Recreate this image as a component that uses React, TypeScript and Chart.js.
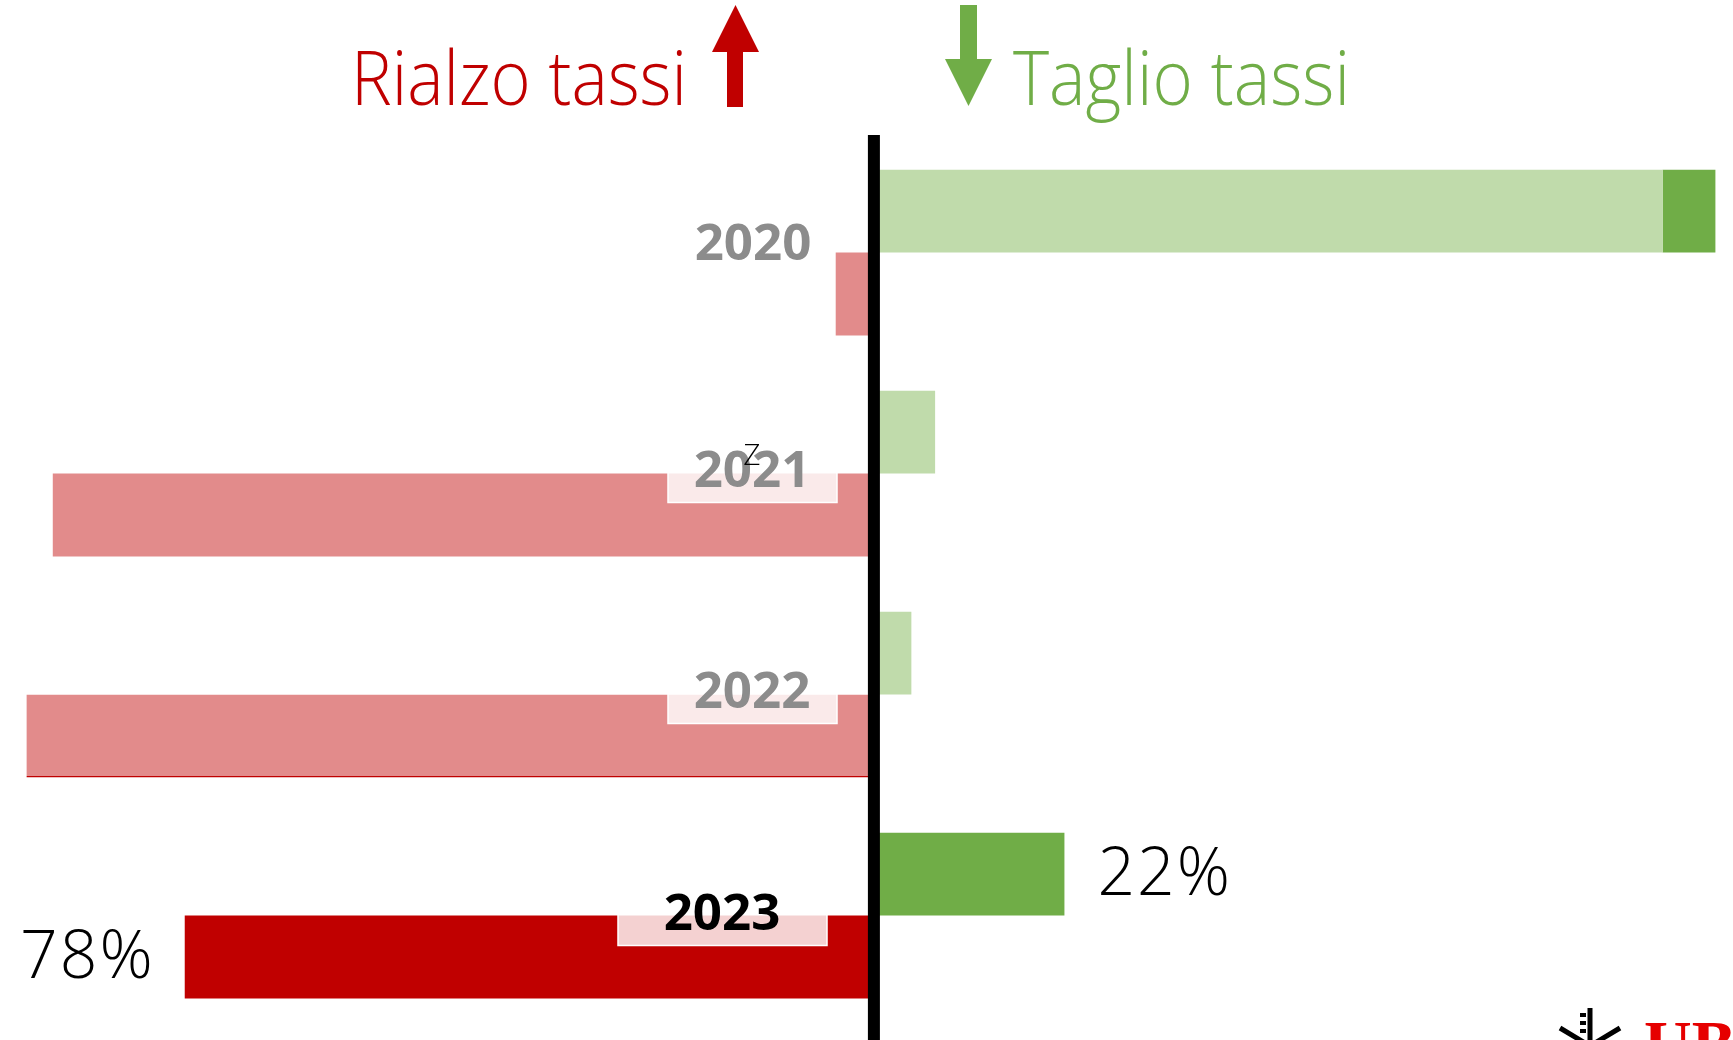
import React, { useEffect, useRef } from "react";
import { Chart, registerables } from "chart.js";

Chart.register(...registerables);

// ---- data ----
const years = ["2020", "2021", "2022", "2023"];
const cutValues = [90, 7.3, 4.6, 22]; // Taglio tassi (%)
const cutExtra = [6, 0, 0, 0]; // darker tip on 2020 cut bar
const hikeValues = [-4, -93, -96, -78]; // Rialzo tassi (%)
const highlightIndex = 3;

// ---- styles ----
const W = 1733;
const H = 1040;
const RED = "#C00000";
const RED_LIGHT = "#E28B8B";
const GREEN = "#70AD47";
const GREEN_LIGHT = "#C0DBAB";
const yearLabelDy = [7, 13, 13, 14];
const yearLabelX = [753, 752, 752, 722];
const yearBox = [null, [668, 837], [668, 837], [618, 827]] as (number[] | null)[];

function condensedText(ctx: CanvasRenderingContext2D, text: string, x: number, y: number, targetWidth: number, align: "left" | "right") {
  const w = ctx.measureText(text).width;
  const s = targetWidth / w;
  ctx.save();
  ctx.textAlign = "left";
  const left = align === "left" ? x : x - targetWidth;
  ctx.translate(left, y);
  ctx.scale(s, 1);
  ctx.fillText(text, 0, 0);
  ctx.restore();
}

const overlay = {
  id: "overlay",
  afterDatasetsDraw(chart: any) {
    const ctx = chart.ctx as CanvasRenderingContext2D;
    const xs = chart.scales.x;
    const ys = chart.scales.y;
    ctx.save();

    // label boxes + year labels
    years.forEach((yr, i) => {
      const cy = ys.getPixelForValue(i);
      const base = cy + yearLabelDy[i];
      const box = yearBox[i];
      if (box) {
        const bottom = base + 16;
        const top = base - 58;
        ctx.fillStyle = "rgba(255,255,255,0.82)";
        ctx.fillRect(box[0], top, box[1] - box[0], bottom - top);
        ctx.strokeStyle = "rgba(255,255,255,1)";
        ctx.lineWidth = 1.5;
        ctx.strokeRect(box[0], top, box[1] - box[0], bottom - top);
      }
      ctx.font = "bold 51px 'Open Sans'";
      ctx.textAlign = "center";
      ctx.textBaseline = "alphabetic";
      ctx.fillStyle = i === highlightIndex ? "#000000" : "#8C8C8C";
      ctx.fillText(yr, yearLabelX[i], base);
    });

    // stray "Z"
    ctx.font = "300 30px 'Open Sans'";
    ctx.fillStyle = "#000";
    ctx.textAlign = "center";
    ctx.fillText("Z", 752, 465);

    // value labels for highlighted year
    const cutEl = chart.getDatasetMeta(0).data[highlightIndex];
    const hikeEl = chart.getDatasetMeta(2).data[highlightIndex];
    ctx.font = "300 66px 'Open Sans'";
    (ctx as any).letterSpacing = "2px";
    ctx.fillStyle = "#000";
    ctx.textBaseline = "middle";
    ctx.textAlign = "left";
    ctx.fillText(Math.round(cutValues[highlightIndex]) + "%", cutEl.x + 33, cutEl.y + 2);
    ctx.textAlign = "right";
    ctx.fillText(Math.round(Math.abs(hikeValues[highlightIndex])) + "%", hikeEl.x - 30, hikeEl.y + 2);
    (ctx as any).letterSpacing = "0px";

    // central axis line
    const x0 = xs.getPixelForValue(0);
    ctx.fillStyle = "#000";
    ctx.fillRect(x0 - 3, 135, 12, H - 135);

    // headers
    ctx.textBaseline = "alphabetic";
    ctx.font = "300 75px 'Open Sans'";
    ctx.fillStyle = RED;
    condensedText(ctx, "Rialzo tassi", 687, 105, 336, "right");
    ctx.fillStyle = GREEN;
    condensedText(ctx, "Taglio tassi", 1013, 105, 337, "left");

    // red up arrow
    ctx.fillStyle = RED;
    ctx.beginPath();
    ctx.moveTo(735.5, 5);
    ctx.lineTo(759, 52);
    ctx.lineTo(743, 52);
    ctx.lineTo(743, 107);
    ctx.lineTo(727, 107);
    ctx.lineTo(727, 52);
    ctx.lineTo(712, 52);
    ctx.closePath();
    ctx.fill();

    // green down arrow
    ctx.fillStyle = GREEN;
    ctx.beginPath();
    ctx.moveTo(960, 5);
    ctx.lineTo(977, 5);
    ctx.lineTo(977, 59);
    ctx.lineTo(992, 59);
    ctx.lineTo(968.5, 106);
    ctx.lineTo(945, 59);
    ctx.lineTo(960, 59);
    ctx.closePath();
    ctx.fill();

    // logo (partially visible)
    ctx.strokeStyle = "#000";
    ctx.fillStyle = "#000";
    ctx.lineWidth = 5;
    ctx.beginPath();
    ctx.moveTo(1590, 1008);
    ctx.lineTo(1590, 1040);
    ctx.moveTo(1560, 1028);
    ctx.lineTo(1590, 1046);
    ctx.moveTo(1620, 1028);
    ctx.lineTo(1590, 1046);
    ctx.stroke();
    ctx.fillRect(1580, 1013, 6, 4);
    ctx.fillRect(1580, 1021, 6, 4);
    ctx.fillRect(1580, 1029, 6, 4);
    ctx.fillStyle = "#E60000";
    ctx.font = "bold 66px 'Liberation Serif'";
    ctx.textAlign = "left";
    ctx.fillText("UBS", 1644, 1066);

    ctx.restore();
  },
};

export default function App() {
  const ref = useRef<HTMLCanvasElement>(null);
  useEffect(() => {
    const canvas = ref.current!;
    const chart = new Chart(canvas, {
      type: "bar",
      data: {
        labels: years,
        datasets: [
          {
            label: "Taglio tassi",
            data: cutValues,
            backgroundColor: years.map((_, i) => (i === highlightIndex ? GREEN : GREEN_LIGHT)),
            stack: "cut",
          },
          {
            label: "Taglio tassi (extra)",
            data: cutExtra,
            backgroundColor: GREEN,
            stack: "cut",
          },
          {
            label: "Rialzo tassi",
            data: hikeValues,
            backgroundColor: years.map((_, i) => (i === highlightIndex ? RED : RED_LIGHT)),
            borderColor: RED,
            borderWidth: (c: any) => (c.dataIndex === 2 ? { top: 0, left: 0, right: 0, bottom: 1.5 } : 0),
            borderSkipped: false,
            stack: "hike",
          },
        ],
      },
      options: {
        indexAxis: "y",
        animation: false,
        responsive: false,
        maintainAspectRatio: false,
        layout: { padding: { top: 142, bottom: 14, left: 0, right: 0 } },
        datasets: { bar: { categoryPercentage: 0.75, barPercentage: 1 } } as any,
        plugins: {
          legend: { display: false },
          tooltip: { enabled: false },
          title: { display: false },
        },
        scales: {
          x: { display: false, min: -99, max: 98 },
          y: { display: false },
        },
      },
      plugins: [overlay],
    } as any);
    return () => chart.destroy();
  }, []);
  return (
    <div style={{ position: "absolute", left: 0, top: 0, width: W, height: H, background: "#fff", overflow: "hidden" }}>
      <canvas ref={ref} width={W} height={H} style={{ display: "block", width: W, height: H }} />
    </div>
  );
}
